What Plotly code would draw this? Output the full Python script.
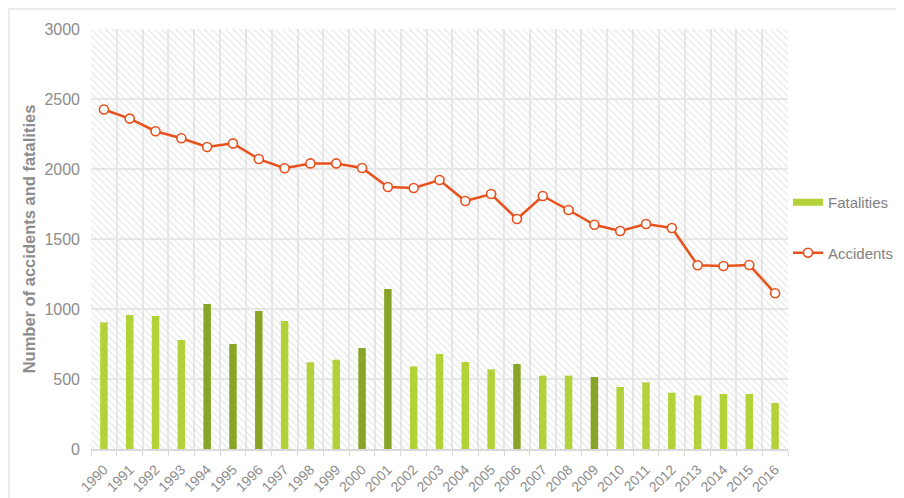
import plotly.graph_objects as go

years = [str(y) for y in range(1990, 2017)]
accidents = [2425, 2360, 2270, 2220, 2157, 2183, 2071, 2005, 2040, 2040, 2007,
             1871, 1864, 1921, 1771, 1821, 1643, 1807, 1707, 1602, 1557, 1607,
             1579, 1312, 1307, 1314, 1112]
fatalities = [905, 957, 950, 779, 1036, 750, 986, 914, 619, 638, 721,
              1143, 590, 679, 621, 569, 607, 524, 524, 514, 443, 476,
              402, 383, 393, 393, 329]
dark_years = ["1994", "1995", "1996", "2000", "2001", "2006", "2009"]

LIGHT = "#b3d23a"
DARK = "#88a527"
ORANGE = "#e8501c"
GRAY = "#8c8c8c"
Y_MAX = 3000

bar_colors = [DARK if y in dark_years else LIGHT for y in years]

fig = go.Figure()

# hatched plot background
fig.add_trace(go.Bar(
    x=years, y=[Y_MAX] * len(years), width=1,
    marker=dict(color="rgba(0,0,0,0)", line=dict(width=0),
                pattern=dict(shape="\\", fgcolor="#dedede", bgcolor="rgba(0,0,0,0)",
                             size=5, solidity=0.4, fillmode="overlay")),
    hoverinfo="skip", showlegend=False,
))

fig.add_trace(go.Bar(
    x=years, y=fatalities, name="Fatalities", width=0.29,
    marker=dict(color=bar_colors, line=dict(width=0)),
    legendgroup="f", showlegend=False,
))
# legend entry for the bars (wide swatch like the original)
fig.add_trace(go.Scatter(
    x=[None], y=[None], name="Fatalities", mode="lines",
    line=dict(color=LIGHT, width=7), legendgroup="f", hoverinfo="skip",
))

fig.add_trace(go.Scatter(
    x=years, y=accidents, name="Accidents", mode="lines+markers",
    line=dict(color=ORANGE, width=2.5),
    marker=dict(symbol="circle", size=9, color="white", line=dict(color=ORANGE, width=1.6)),
    legendgroup="a",
))

W, H = 896, 490
L, R, T, B = 83, 116, 21, 49
pw, ph = W - L - R, H - T - B

fig.update_layout(
    width=W, height=H,
    margin=dict(l=L, r=R, t=T, b=B, autoexpand=False),
    paper_bgcolor="white", plot_bgcolor="white",
    barmode="overlay",
    font=dict(family="Liberation Sans, Arial, sans-serif", color=GRAY, size=15),
    showlegend=True,
    legend=dict(x=(780 - L) / pw, y=(H - B - 219.5) / ph, xanchor="left", yanchor="middle",
                traceorder="grouped", tracegroupgap=28,
                font=dict(size=15, color="#7f7f7f"), itemwidth=30,
                bgcolor="rgba(0,0,0,0)"),
    xaxis=dict(type="category", tickson="boundaries", showgrid=True, automargin=False,
               range=[-0.5, len(years) - 0.5],
               gridcolor="#e8e8e8", gridwidth=1.5,
               ticks="outside", ticklen=5, tickcolor="#d9d9d9",
               showline=True, linecolor="#d9d9d9", linewidth=2,
               tickangle=-45, tickfont=dict(size=14, color=GRAY), ticklabelstandoff=5),
    yaxis=dict(range=[0, Y_MAX], dtick=500, showgrid=True, automargin=False,
               gridcolor="#e8e8e8", gridwidth=1.5, zeroline=False,
               tickfont=dict(size=16, color=GRAY), ticklabelstandoff=10,
               title=dict(text="<b>Number of accidents and fatalities</b>",
                          font=dict(size=16.5, color=GRAY), standoff=4)),
    shapes=[dict(type="rect", xref="paper", yref="paper",
                 x0=(1 - L) / pw, x1=(W + 10 - L) / pw,
                 y0=(H - B - (H + 10)) / ph, y1=(H - B - 1) / ph,
                 line=dict(color="#e6e6e6", width=1.5), fillcolor="rgba(0,0,0,0)",
                 layer="below")],
)

fig.write_html("out.html")
